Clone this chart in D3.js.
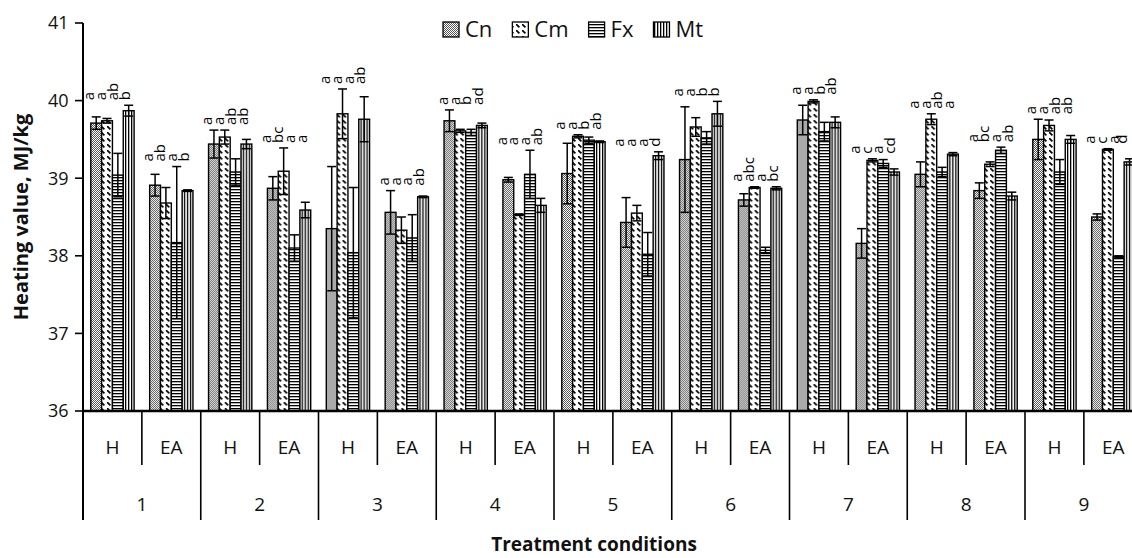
<!DOCTYPE html>
<html>
<head>
<meta charset="utf-8">
<script src="https://cdn.jsdelivr.net/npm/d3@7/dist/d3.min.js"></script>
<style>
  html, body { margin: 0; padding: 0; background: #fff; }
  svg { display: block; font-family: "Open Sans", sans-serif; }
</style>
</head>
<body>
<svg id="chart" width="1132" height="558"></svg>
<script>
// ---------- data ----------
const groups = ["1", "2", "3", "4", "5", "6", "7", "8", "9"];
const subgroups = ["H", "EA"];
const seriesNames = ["Cn", "Cm", "Fx", "Mt"];
const yTicks = [36, 37, 38, 39, 40, 41];

// order: 1H, 1EA, 2H, 2EA, ... 9H, 9EA
const cnValues = [39.71, 38.91, 39.44, 38.87, 38.35, 38.56, 39.74, 38.98, 39.06, 38.43, 39.24, 38.72, 39.75, 38.16, 39.05, 38.84, 39.50, 38.50];
const cnErrors = [0.08, 0.14, 0.18, 0.15, 0.80, 0.28, 0.14, 0.03, 0.39, 0.32, 0.68, 0.08, 0.19, 0.19, 0.16, 0.10, 0.26, 0.04];
const cmValues = [39.74, 38.68, 39.53, 39.09, 39.83, 38.33, 39.61, 38.53, 39.54, 38.55, 39.66, 38.88, 39.99, 39.23, 39.76, 39.18, 39.68, 39.37];
const cmErrors = [0.03, 0.20, 0.09, 0.30, 0.32, 0.17, 0.02, 0.01, 0.02, 0.10, 0.12, 0.01, 0.02, 0.02, 0.07, 0.03, 0.07, 0.01];
const fxValues = [39.04, 38.17, 39.08, 38.10, 38.04, 38.23, 39.59, 39.05, 39.49, 38.02, 39.52, 38.07, 39.60, 39.19, 39.08, 39.36, 39.08, 37.99];
const fxErrors = [0.28, 0.98, 0.17, 0.17, 0.84, 0.30, 0.04, 0.31, 0.04, 0.28, 0.08, 0.04, 0.12, 0.05, 0.06, 0.04, 0.16, 0.01];
const mtValues = [39.87, 38.84, 39.44, 38.59, 39.76, 38.76, 39.68, 38.65, 39.47, 39.29, 39.83, 38.87, 39.72, 39.08, 39.31, 38.77, 39.50, 39.21];
const mtErrors = [0.07, 0.01, 0.06, 0.10, 0.29, 0.01, 0.03, 0.09, 0.01, 0.05, 0.16, 0.02, 0.07, 0.04, 0.02, 0.05, 0.05, 0.04];

// significance letters per bar (Cn, Cm, Fx, Mt) for each condition
const letters = [
  ["a", "a", "ab", "b"],
  ["a", "ab", "a", "b"],
  ["a", "a", "ab", "ab"],
  ["a", "bc", "a", "a"],
  ["a", "a", "a", "ab"],
  ["a", "a", "a", "ab"],
  ["a", "a", "b", "ad"],
  ["a", "a", "a", "ab"],
  ["a", "a", "b", "ab"],
  ["a", "a", "a", "d"],
  ["a", "a", "b", "b"],
  ["a", "abc", "a", "bc"],
  ["a", "a", "b", "ab"],
  ["a", "c", "a", "cd"],
  ["a", "a", "ab", "a"],
  ["a", "bc", "a", "ab"],
  ["a", "a", "ab", "ab"],
  ["a", "c", "a", "d"]
];

const yTitle = "Heating value, MJ/kg";
const xTitle = "Treatment conditions";

// ---------- build ----------
(function () {
const W = 1132;
const valuesBySeries = [cnValues, cmValues, fxValues, mtValues];
const errorsBySeries = [cnErrors, cmErrors, fxErrors, mtErrors];
const cells = [];
groups.forEach((g, gi) => subgroups.forEach((s, si) => cells.push({ g, s, key: g + "-" + s, idx: gi * 2 + si })));

const svg = d3.select("#chart");
svg.append("rect").attr("width", W).attr("height", 558).attr("fill", "#fff");

// patterns
const defs = svg.append("defs");
const pCn = defs.append("pattern").attr("id", "pCn").attr("patternUnits", "userSpaceOnUse").attr("width", 2).attr("height", 2);
pCn.append("rect").attr("width", 2).attr("height", 2).attr("fill", "#fff");
pCn.append("rect").attr("x", 0).attr("y", 0).attr("width", 1).attr("height", 1).attr("fill", "#555");
pCn.append("rect").attr("x", 1).attr("y", 1).attr("width", 1).attr("height", 1).attr("fill", "#555");

const pCm = defs.append("pattern").attr("id", "pCm").attr("patternUnits", "userSpaceOnUse").attr("width", 6).attr("height", 6);
pCm.append("rect").attr("width", 6).attr("height", 6).attr("fill", "#fff");
pCm.append("line").attr("x1", 0).attr("y1", 0).attr("x2", 3.4).attr("y2", 3.4).attr("stroke", "#000").attr("stroke-width", 1.7);

const pFx = defs.append("pattern").attr("id", "pFx").attr("patternUnits", "userSpaceOnUse").attr("width", 4).attr("height", 3);
pFx.append("rect").attr("width", 4).attr("height", 3).attr("fill", "#fff");
pFx.append("rect").attr("x", 0).attr("y", 0).attr("width", 4).attr("height", 1.3).attr("fill", "#000");

const pMt = defs.append("pattern").attr("id", "pMt").attr("patternUnits", "userSpaceOnUse").attr("width", 3).attr("height", 4);
pMt.append("rect").attr("width", 3).attr("height", 4).attr("fill", "#fff");
pMt.append("rect").attr("x", 0).attr("y", 0).attr("width", 1.3).attr("height", 4).attr("fill", "#000");

const fills = ["url(#pCn)", "url(#pCm)", "url(#pFx)", "url(#pMt)"];

// scales
const pLeft = 83, pTop = 23, pBottom = 411;
const x0 = d3.scaleBand().domain(cells.map(c => c.key)).range([pLeft, pLeft + 117.75 * 9]).paddingInner(0).paddingOuter(0);
const x1 = d3.scaleBand().domain(seriesNames).range([0, x0.bandwidth()]).paddingInner(0).paddingOuter(0.72);
const y = d3.scaleLinear().domain([36, 41]).range([pBottom, pTop]);
const xg = d3.scaleBand().domain(groups).range([pLeft, pLeft + 117.75 * 9]);

// bars
const plot = svg.append("g");
cells.forEach(c => {
  const gCell = plot.append("g").attr("transform", `translate(${x0(c.key)},0)`);
  seriesNames.forEach((sn, k) => {
    const v = valuesBySeries[k][c.idx];
    gCell.append("rect")
      .attr("x", x1(sn)).attr("y", y(v))
      .attr("width", x1.bandwidth()).attr("height", y(36) - y(v))
      .attr("fill", fills[k]).attr("stroke", "#000").attr("stroke-width", 1.4);
  });
  // error bars
  seriesNames.forEach((sn, k) => {
    const v = valuesBySeries[k][c.idx], e = errorsBySeries[k][c.idx];
    const cx = x1(sn) + x1.bandwidth() / 2;
    const eg = gCell.append("g").attr("stroke", "#000").attr("stroke-width", 1.5);
    eg.append("line").attr("x1", cx).attr("x2", cx).attr("y1", y(v + e)).attr("y2", y(v - e));
    eg.append("line").attr("x1", cx - 4.5).attr("x2", cx + 4.5).attr("y1", y(v + e)).attr("y2", y(v + e));
    eg.append("line").attr("x1", cx - 4.5).attr("x2", cx + 4.5).attr("y1", y(v - e)).attr("y2", y(v - e));
  });
  // letters (one rotated line per bar)
  const maxTop = d3.max(seriesNames.map((sn, k) => valuesBySeries[k][c.idx] + errorsBySeries[k][c.idx]));
  const baseY = y(maxTop) - 5;
  letters[c.idx].forEach((txt, k) => {
    const bx = Math.min(11.5 + k * 11.8, W - 5 - x0(c.key));
    gCell.append("text")
      .attr("x", bx).attr("y", baseY)
      .attr("transform", `rotate(-90,${bx},${baseY})`)
      .attr("font-size", 15).attr("fill", "#000")
      .attr("text-anchor", "start")
      .text(txt);
  });
});

// y axis
const yAxis = svg.append("g");
yAxis.append("line").attr("x1", pLeft).attr("x2", pLeft).attr("y1", pTop).attr("y2", 520).attr("stroke", "#000").attr("stroke-width", 2);
yTicks.forEach(t => {
  yAxis.append("line").attr("x1", pLeft - 8).attr("x2", pLeft).attr("y1", y(t)).attr("y2", y(t)).attr("stroke", "#000").attr("stroke-width", 1.6);
  yAxis.append("text").attr("x", 68.5).attr("y", y(t)).attr("dy", "0.36em")
    .attr("text-anchor", "end").attr("font-size", 18).attr("fill", "#111").text(t);
});

// x axis
const xAxis = svg.append("g");
xAxis.append("line").attr("x1", pLeft).attr("x2", W).attr("y1", pBottom).attr("y2", pBottom).attr("stroke", "#000").attr("stroke-width", 2.6);
cells.forEach(c => {
  const xs = x0(c.key);
  const isGroupStart = c.s === "H";
  if (xs > pLeft) {
    xAxis.append("line").attr("x1", xs).attr("x2", xs).attr("y1", pBottom).attr("y2", isGroupStart ? 520 : 465)
      .attr("stroke", "#000").attr("stroke-width", 1.6);
  }
  xAxis.append("text").attr("x", xs + x0.bandwidth() / 2).attr("y", 454)
    .attr("text-anchor", "middle").attr("font-size", 19).attr("fill", "#111").text(c.s);
});
groups.forEach(g => {
  xAxis.append("text").attr("x", xg(g) + xg.bandwidth() / 2).attr("y", 511)
    .attr("text-anchor", "middle").attr("font-size", 19).attr("fill", "#111").text(g);
});

// titles
svg.append("text").attr("transform", `translate(28,${(pTop + pBottom) / 2}) rotate(-90)`)
  .attr("text-anchor", "middle").attr("font-size", 20).attr("font-weight", "bold").attr("fill", "#111").text(yTitle);
svg.append("text").attr("x", 594).attr("y", 551)
  .attr("text-anchor", "middle").attr("font-size", 19).attr("font-weight", "bold").attr("fill", "#111").text(xTitle);

// legend
const legend = svg.append("g");
let lx = 443;
seriesNames.forEach((sn, k) => {
  legend.append("rect").attr("x", lx).attr("y", 22).attr("width", 16).attr("height", 15)
    .attr("fill", fills[k]).attr("stroke", "#000").attr("stroke-width", 1.3);
  const t = legend.append("text").attr("x", lx + 22).attr("y", 37).attr("font-size", 22).attr("fill", "#111").text(sn);
  lx += 22 + t.node().getComputedTextLength() + 20;
});
})();
</script>
</body>
</html>
